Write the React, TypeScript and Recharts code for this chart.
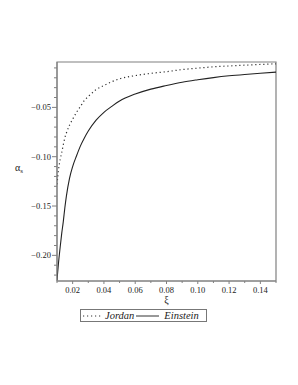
import { LineChart, Line, XAxis, YAxis, Legend, ReferenceArea, Label } from "recharts";

const xiJordan = [0.01, 0.0105, 0.011, 0.012, 0.013, 0.014, 0.015, 0.016, 0.018, 0.02, 0.0225, 0.025, 0.0275, 0.03, 0.035, 0.04, 0.045, 0.05, 0.06, 0.07, 0.08, 0.09, 0.1, 0.11, 0.12, 0.13, 0.14, 0.15];
const alphaJordan = [-0.128, -0.12, -0.113, -0.103, -0.096, -0.088, -0.081, -0.076, -0.068, -0.062, -0.055, -0.049, -0.043, -0.039, -0.032, -0.0278, -0.024, -0.021, -0.0178, -0.0155, -0.0138, -0.0117, -0.0102, -0.0089, -0.008, -0.0072, -0.0065, -0.0058];

const xiEinstein = [0.01, 0.011, 0.012, 0.013, 0.014, 0.015, 0.016, 0.018, 0.02, 0.0225, 0.025, 0.0275, 0.03, 0.035, 0.04, 0.045, 0.05, 0.06, 0.07, 0.08, 0.09, 0.1, 0.11, 0.12, 0.13, 0.14, 0.15];
const alphaEinstein = [-0.225, -0.207, -0.192, -0.178, -0.166, -0.152, -0.14, -0.122, -0.11, -0.099, -0.089, -0.081, -0.074, -0.063, -0.055, -0.049, -0.0435, -0.0365, -0.0315, -0.0278, -0.0245, -0.022, -0.0198, -0.018, -0.0166, -0.0154, -0.0143];

const seriesNames = ["Jordan", "Einstein"];

const xTicks = [0.01, 0.02, 0.03, 0.04, 0.05, 0.06, 0.07, 0.08, 0.09, 0.1, 0.11, 0.12, 0.13, 0.14, 0.15];
const xLabeled = [0.02, 0.04, 0.06, 0.08, 0.1, 0.12, 0.14];
const yTicks = [-0.22, -0.21, -0.2, -0.19, -0.18, -0.17, -0.16, -0.15, -0.14, -0.13, -0.12, -0.11, -0.1, -0.09, -0.08, -0.07, -0.06, -0.05, -0.04, -0.03, -0.02, -0.01];
const yLabeled = [-0.2, -0.15, -0.1, -0.05];

const xDomain: [number, number] = [0.01, 0.15];
const yDomain: [number, number] = [-0.226, -0.004];

const jordan = xiJordan.map((xi, i) => ({ xi, alpha: alphaJordan[i] }));
const einstein = xiEinstein.map((xi, i) => ({ xi, alpha: alphaEinstein[i] }));

const FONT = "Liberation Serif";
const AXIS = "#808080";

const isIn = (list: number[], v: number) => list.some((l) => Math.abs(l - v) < 1e-6);

const XTick = ({ x, y, payload }: any) => {
  const major = isIn(xLabeled, payload.value);
  return (
    <g>
      <line x1={x} y1={y} x2={x} y2={y + (major ? 3 : 2)} stroke={AXIS} />
      {major && (
        <text x={x} y={y + 12} textAnchor="middle" style={{ fontFamily: FONT, fontSize: 8.5 }} fill="#222">
          {payload.value.toFixed(2)}
        </text>
      )}
    </g>
  );
};

const YTick = ({ x, y, payload }: any) => {
  const major = isIn(yLabeled, payload.value);
  return (
    <g>
      <line x1={x} y1={y} x2={x - (major ? 5 : 3)} y2={y} stroke={AXIS} />
      {major && (
        <text x={x - 6} y={y + 3} textAnchor="end" style={{ fontFamily: FONT, fontSize: 8.5 }} fill="#222">
          {"\u2212" + Math.abs(payload.value).toFixed(2)}
        </text>
      )}
    </g>
  );
};

const YLabel = () => (
  <text x={15} y={171} style={{ fontFamily: FONT, fontSize: 10 }} fill="#222">
    α<tspan style={{ fontSize: 7 }} dy={2}>s</tspan>
  </text>
);

const LegendBox = ({ payload }: any) => {
  const items = seriesNames
    .map((n) => (payload || []).find((p: any) => p.value === n))
    .filter(Boolean);
  return (
    <div
      style={{
        display: "flex",
        alignItems: "center",
        height: 13,
        width: 127,
        boxSizing: "border-box",
        border: "1px solid #777",
        fontFamily: FONT,
        fontStyle: "italic",
        fontSize: 10.5,
        color: "#222",
        lineHeight: "11px",
      }}
    >
      {items.map((p: any) => (
        <span key={p.value} style={{ display: "flex", alignItems: "center" }}>
          <svg width={p.value === "Jordan" ? 24 : 30} height={10}>
            <line
              x1={2}
              y1={5}
              x2={p.value === "Jordan" ? 20 : 25}
              y2={5}
              stroke="#333"
              strokeWidth={1}
              strokeDasharray={p.payload?.strokeDasharray}
            />
          </svg>
          <span>{p.value}</span>
        </span>
      ))}
    </div>
  );
};

export default function App() {
  return (
    <div style={{ position: "absolute", left: 0, top: 0, background: "#fff" }}>
      <LineChart width={298} height={385} margin={{ top: 62, right: 22, left: 0, bottom: 63 }}>
        <XAxis
          dataKey="xi"
          type="number"
          domain={xDomain}
          ticks={xTicks}
          interval={0}
          allowDataOverflow
          height={28}
          tickSize={0}
          tickMargin={0}
          tickLine={false}
          tick={<XTick />}
          axisLine={{ stroke: AXIS }}
        >
          <Label value="ξ" position="insideBottom" offset={6} style={{ fontFamily: FONT, fontSize: 10 }} fill="#222" />
        </XAxis>
        <YAxis
          type="number"
          domain={yDomain}
          ticks={yTicks}
          interval={0}
          allowDataOverflow
          width={57}
          tickSize={0}
          tickMargin={0}
          tickLine={false}
          tick={<YTick />}
          axisLine={{ stroke: AXIS }}
        >
          <Label content={<YLabel />} />
        </YAxis>
        <ReferenceArea x1={xDomain[0]} x2={xDomain[1]} y1={yDomain[0]} y2={yDomain[1]} fill="none" stroke={AXIS} strokeWidth={1.2} />
        <Line
          data={jordan}
          dataKey="alpha"
          name="Jordan"
          type="monotone"
          stroke="#333"
          strokeWidth={1.2}
          strokeDasharray="1.2 2.8"
          dot={false}
          isAnimationActive={false}
        />
        <Line
          data={einstein}
          dataKey="alpha"
          name="Einstein"
          type="monotone"
          stroke="#222"
          strokeWidth={1.1}
          dot={false}
          isAnimationActive={false}
        />
        <Legend verticalAlign="bottom" content={<LegendBox />} wrapperStyle={{ left: 80, width: 127 }} />
      </LineChart>
    </div>
  );
}
